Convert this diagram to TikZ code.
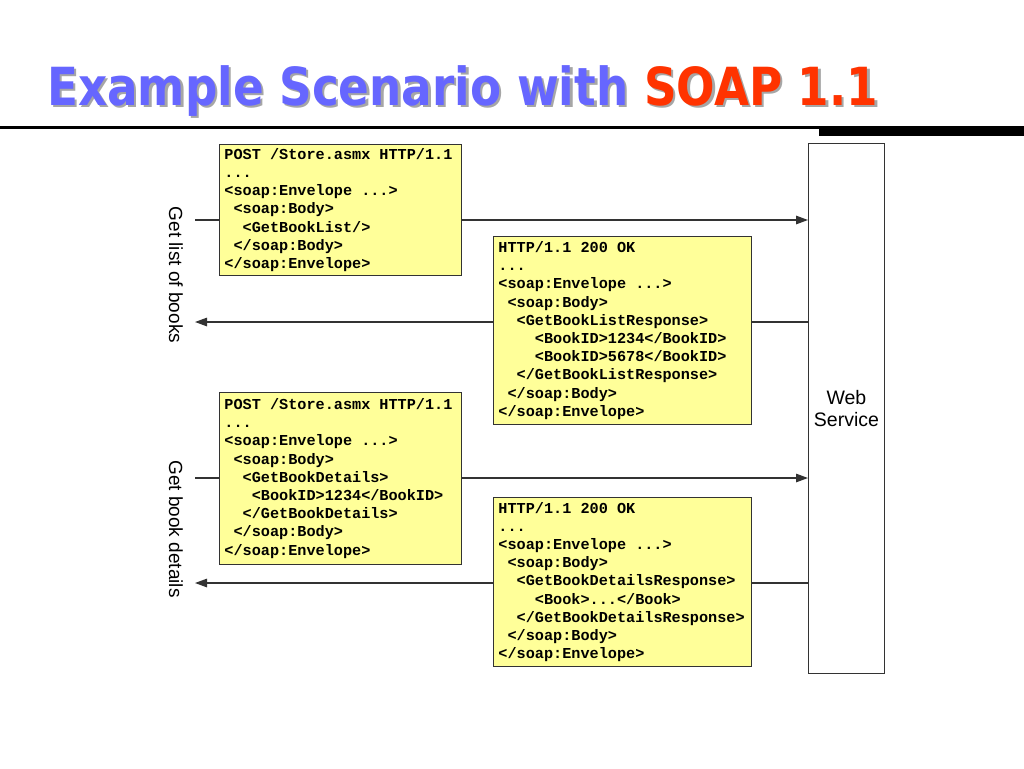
\documentclass[tikz,border=0pt]{standalone}
\usepackage{fontspec}
\setmainfont{Liberation Sans}
\newfontfamily\codefont{Liberation Mono}
\newfontfamily\titlefont{DejaVu Sans}
\usetikzlibrary{arrows.meta}
\definecolor{boxyellow}{HTML}{FFFF99}
\definecolor{titleblue}{HTML}{6666FF}
\definecolor{titlered}{HTML}{FF3300}
\definecolor{linegray}{HTML}{333333}
\newcommand\titletext[2]{{\titlefont\bfseries\fontsize{52.5}{60}\selectfont\color{#1}Example Scenario with \color{#2}SOAP 1.1}}
\newcommand\codesetup{\codefont\bfseries\fontsize{15.2}{18.2}\selectfont}
\newcommand\msp{\hphantom{x}}
\newsavebox\titlebox
\begin{document}
\sbox\titlebox{\titletext{black}{black}}
\pgfmathsetmacro\tsx{831pt/\wd\titlebox}
\begin{tikzpicture}[x=1pt,y=-1pt,
  msg/.style={draw=linegray, line width=0.9pt, fill=boxyellow, anchor=north west, inner xsep=5pt, inner ysep=0pt, align=left,
    font=\codesetup},
  conn/.style={draw=linegray, line width=1.3pt, -{Triangle[length=12pt,width=8.5pt]}},
  side/.style={font=\fontsize{19}{22}\selectfont, inner sep=0pt},
]
\useasboundingbox (0,0) rectangle (1024,768);
% title
\node[anchor=base west, inner sep=0pt] (titleshadow) at (49.5,107.5) {\scalebox{\tsx}[1]{\titletext{black!35}{black!35}}};
\node[anchor=base west, inner sep=0pt] (title) at (47,105) {\scalebox{\tsx}[1]{\titletext{titleblue}{titlered}}};
% rule
\coordinate (ruleL) at (0,127.5);
\coordinate (ruleR) at (1024,127.5);
\draw[line width=3pt] (ruleL) -- (ruleR);
\fill (819,127) rectangle (1024,136);
% web service
\node[draw=linegray, line width=0.9pt, fill=white, anchor=north west, minimum width=76pt, minimum height=530pt,
  align=center, font=\fontsize{19.5}{22}\selectfont, inner sep=0pt] (ws) at (808,143) {Web\\Service};
% connector end points
\coordinate (a1) at (195,220);
\coordinate (a2) at (195,322);
\coordinate (a3) at (195,478);
\coordinate (a4) at (195,583);
\draw[conn] (a1) -- (a1 -| ws.west);
\draw[conn] (a2 -| ws.west) -- (a2);
\draw[conn] (a3) -- (a3 -| ws.west);
\draw[conn] (a4 -| ws.west) -- (a4);
% side labels
\node[side, rotate=-90] (lab1) at (176,275) {Get list of books};
\node[side, rotate=-90] (lab2) at (176,529) {Get book details};
% messages
\node[msg, text width=232pt, minimum height=131pt] (req1) at (219,144) {POST\msp/Store.asmx\msp HTTP/1.1\\
...\\
<soap:Envelope\msp...>\\
\msp<soap:Body>\\
\msp\msp<GetBookList/>\\
\msp</soap:Body>\\
</soap:Envelope>};
\node[msg, text width=248pt, minimum height=188pt] (resp1) at (493,236) {HTTP/1.1\msp 200\msp OK\\
...\\
<soap:Envelope\msp...>\\
\msp<soap:Body>\\
\msp\msp<GetBookListResponse>\\
\msp\msp\msp\msp<BookID>1234</BookID>\\
\msp\msp\msp\msp<BookID>5678</BookID>\\
\msp\msp</GetBookListResponse>\\
\msp</soap:Body>\\
</soap:Envelope>};
\node[msg, text width=232pt, minimum height=172pt] (req2) at (219,392) {POST\msp/Store.asmx\msp HTTP/1.1\\
...\\
<soap:Envelope\msp...>\\
\msp<soap:Body>\\
\msp\msp<GetBookDetails>\\
\msp\msp\msp<BookID>1234</BookID>\\
\msp\msp</GetBookDetails>\\
\msp</soap:Body>\\
</soap:Envelope>};
\node[msg, text width=248pt, minimum height=169pt] (resp2) at (493,497) {HTTP/1.1\msp 200\msp OK\\
...\\
<soap:Envelope\msp...>\\
\msp<soap:Body>\\
\msp\msp<GetBookDetailsResponse>\\
\msp\msp\msp\msp<Book>...</Book>\\
\msp\msp</GetBookDetailsResponse>\\
\msp</soap:Body>\\
</soap:Envelope>};
\end{tikzpicture}
\end{document}
